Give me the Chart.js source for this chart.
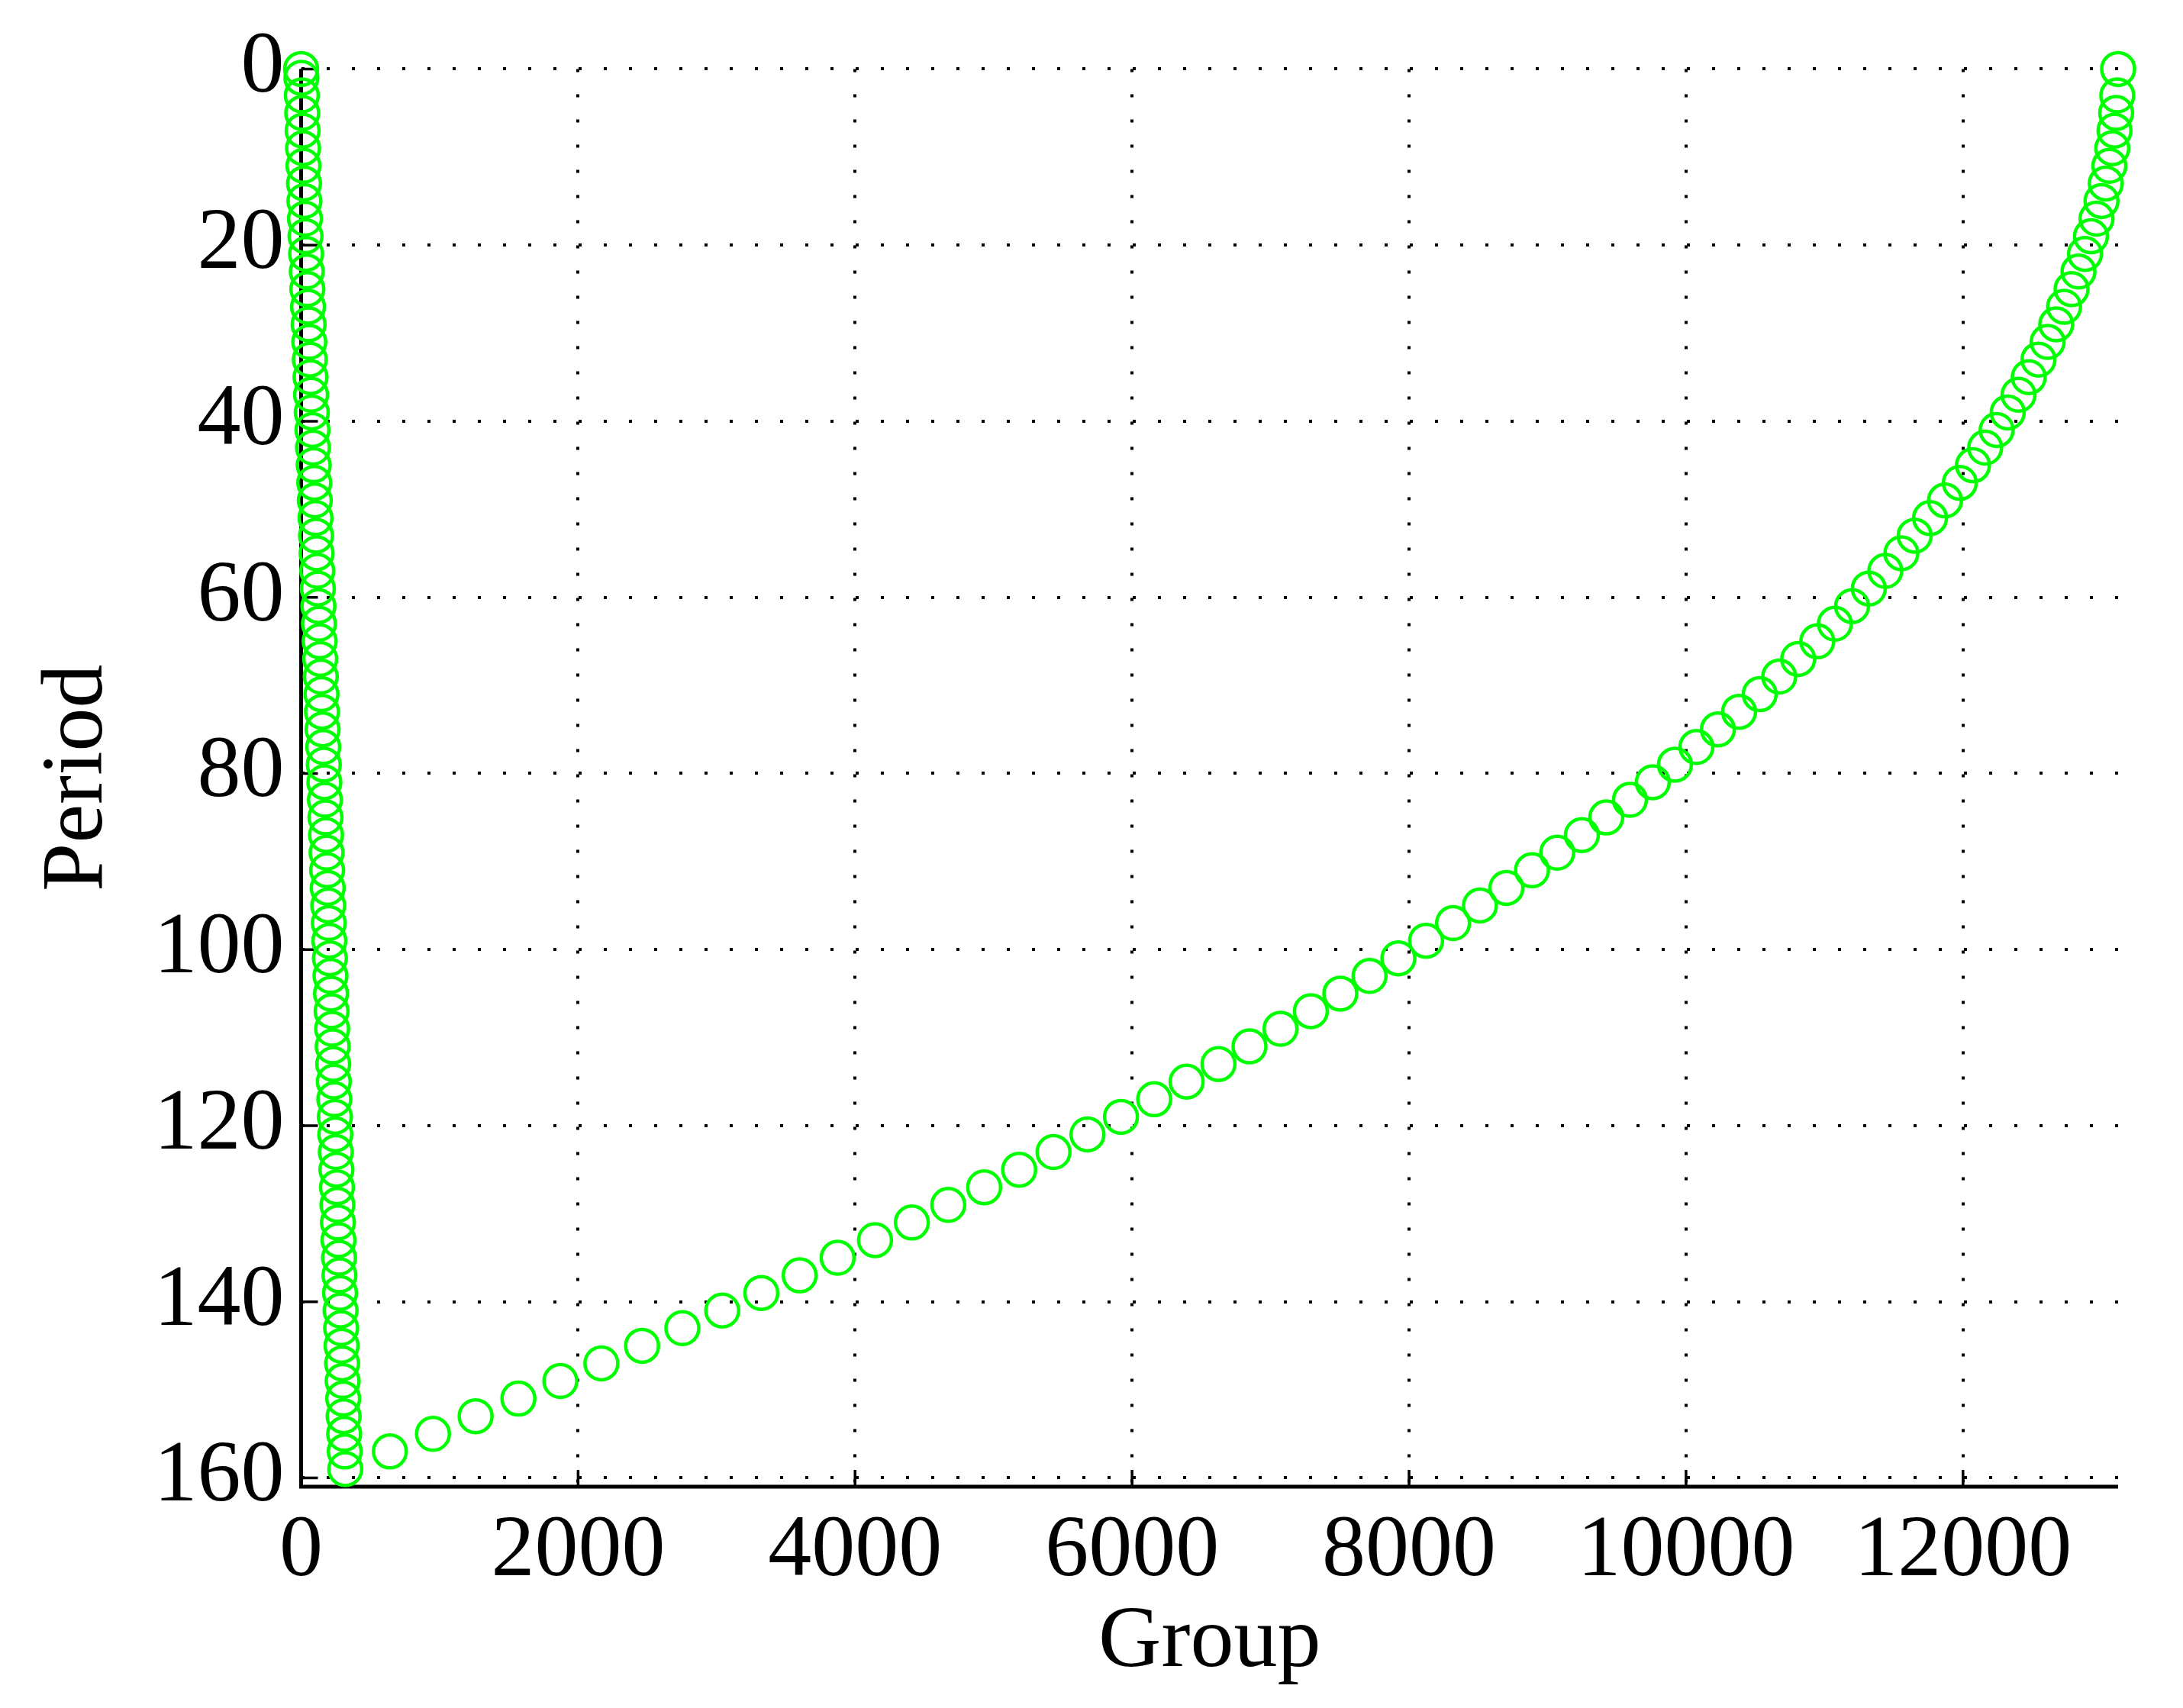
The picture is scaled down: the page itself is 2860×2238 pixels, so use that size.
<!DOCTYPE html>
<html>
<head>
<meta charset="utf-8">
<title>Period vs Group</title>
<script src="https://cdn.jsdelivr.net/npm/chart.js@4/dist/chart.umd.min.js"></script>
<style>
  html, body { margin: 0; padding: 0; background: #fff; }
  canvas { display: block; }
</style>
</head>
<body>
<canvas id="periodChart" width="2860" height="2238"></canvas>
<script>
// left branch (small groups), every odd period
const leftPeriod = [0, 1, 3, 5, 7, 9, 11, 13, 15, 17, 19, 21, 23, 25, 27, 29, 31, 33, 35, 37, 39,
    41, 43, 45, 47, 49, 51, 53, 55, 57, 59, 61, 63, 65, 67, 69, 71, 73, 75, 77, 79,
    81, 83, 85, 87, 89, 91, 93, 95, 97, 99, 101, 103, 105, 107, 109, 111, 113, 115, 117, 119,
    121, 123, 125, 127, 129, 131, 133, 135, 137, 139, 141, 143, 145, 147, 149, 151, 153, 155, 157, 159];
const leftGroup = [0, 2, 5, 8, 11, 14, 17, 21, 24, 28, 32, 36, 41, 45, 50, 54, 59, 63, 68, 72, 77,
    82, 86, 91, 95, 99, 104, 108, 112, 117, 121, 125, 129, 134, 138, 142, 147, 151, 155, 160, 164,
    168, 172, 176, 180, 184, 188, 192, 196, 200, 204, 208, 212, 216, 220, 224, 228, 232, 236, 240, 244,
    247, 251, 255, 259, 262, 266, 270, 274, 277, 281, 285, 289, 292, 296, 300, 304, 307, 311, 315, 319];

// right branch (large groups)
const rightPeriod = [0, 3, 5, 7, 9, 11, 13, 15, 17, 19, 21, 23, 25, 27, 29, 31, 33, 35, 37, 39,
    41, 43, 45, 47, 49, 51, 53, 55, 57, 59, 61, 63, 65, 67, 69, 71, 73, 75, 77, 79,
    81, 83, 85, 87, 89, 91, 93, 95, 97, 99, 101, 103, 105, 107, 109, 111, 113, 115, 117, 119,
    121, 123, 125, 127, 129, 131, 133, 135, 137, 139, 141, 143, 145, 147, 149, 151, 153, 155, 157];
const rightGroup = [13120, 13114, 13106, 13094, 13078, 13057, 13031, 13000, 12964, 12924,
    12881, 12834, 12784, 12730, 12673, 12611, 12545, 12475, 12401, 12323,
    12243, 12160, 12072, 11977, 11870, 11762, 11651, 11555, 11439, 11320,
    11199, 11075, 10948, 10810, 10673, 10532, 10383, 10230, 10075, 9920,
    9760, 9595, 9424, 9248, 9070, 8888, 8703, 8512, 8318, 8123,
    7923, 7715, 7504, 7291, 7072, 6848, 6624, 6394, 6160, 5920,
    5678, 5433, 5185, 4932, 4673, 4410, 4144, 3874, 3600, 3323,
    3041, 2753, 2462, 2168, 1872, 1569, 1260, 952, 641];

const xTicks = [0, 2000, 4000, 6000, 8000, 10000, 12000];
const yTicks = [0, 20, 40, 60, 80, 100, 120, 140, 160];

const FONT = 'Liberation Serif, Times New Roman, serif';

function toPoints(xs, ys) {
    return xs.map((x, i) => ({ x: x, y: ys[i] }));
}

const circleStyle = {
    pointStyle: 'circle',
    pointRadius: 21.5,
    pointHoverRadius: 21.5,
    pointBorderWidth: 4.5,
    pointBorderColor: '#00ff00',
    pointBackgroundColor: 'rgba(0,0,0,0)',
    showLine: false,
    clip: false
};

// MATLAB style axes: solid left/bottom lines with inward ticks
const axesPlugin = {
    id: 'matlabAxes',
    beforeDatasetsDraw(chart) {
        const { ctx, chartArea, scales } = chart;
        const x0 = chartArea.left, y0 = chartArea.bottom;
        ctx.save();
        ctx.strokeStyle = '#000';
        ctx.setLineDash([]);
        ctx.lineWidth = 3.5;
        ctx.beginPath();
        yTicks.forEach(v => {
            const py = scales.y.getPixelForValue(v);
            ctx.moveTo(x0, py);
            ctx.lineTo(x0 + 22, py);
        });
        xTicks.forEach(v => {
            const px = scales.x.getPixelForValue(v);
            ctx.moveTo(px, y0);
            ctx.lineTo(px, y0 - 22);
        });
        ctx.stroke();
        ctx.lineWidth = 5;
        ctx.beginPath();
        ctx.moveTo(x0, chartArea.top);
        ctx.lineTo(x0, y0);
        ctx.lineTo(chartArea.right, y0);
        ctx.stroke();
        ctx.restore();
    }
};

const ctx = document.getElementById('periodChart').getContext('2d');

new Chart(ctx, {
    type: 'scatter',
    data: {
        datasets: [
            Object.assign({ label: 'left', data: toPoints(leftGroup, leftPeriod) }, circleStyle),
            Object.assign({ label: 'right', data: toPoints(rightGroup, rightPeriod) }, circleStyle)
        ]
    },
    options: {
        responsive: false,
        animation: false,
        devicePixelRatio: 1,
        layout: { padding: { top: 81, right: 85, left: 0, bottom: 0 } },
        plugins: {
            legend: { display: false },
            tooltip: { enabled: false }
        },
        scales: {
            x: {
                type: 'linear',
                min: 0,
                max: 13120,
                afterBuildTicks: s => { s.ticks = xTicks.map(v => ({ value: v })); },
                afterFit: s => { s.height = 290; },
                grid: { color: '#000', lineWidth: 4, drawTicks: false },
                border: { display: false, dash: [4, 29] },
                ticks: {
                    color: '#000',
                    padding: 18,
                    maxRotation: 0,
                    font: { family: FONT, size: 114 },
                    callback: v => String(v)
                },
                title: {
                    display: true,
                    text: 'Group',
                    color: '#000',
                    font: { family: FONT, size: 114 },
                    padding: { top: 0, bottom: 17 }
                }
            },
            y: {
                type: 'linear',
                reverse: true,
                min: 0,
                max: 161,
                afterBuildTicks: s => { s.ticks = yTicks.map(v => ({ value: v })); },
                afterFit: s => { s.width = 394.5; },
                grid: { color: '#000', lineWidth: 4, drawTicks: false },
                border: { display: false, dash: [4, 29] },
                ticks: {
                    color: '#000',
                    padding: 22,
                    font: { family: FONT, size: 114 },
                    callback: v => String(v)
                },
                title: {
                    display: true,
                    text: 'Period',
                    color: '#000',
                    font: { family: FONT, size: 114 },
                    padding: { top: 35, bottom: 0 }
                }
            }
        }
    },
    plugins: [axesPlugin]
});
</script>
</body>
</html>
